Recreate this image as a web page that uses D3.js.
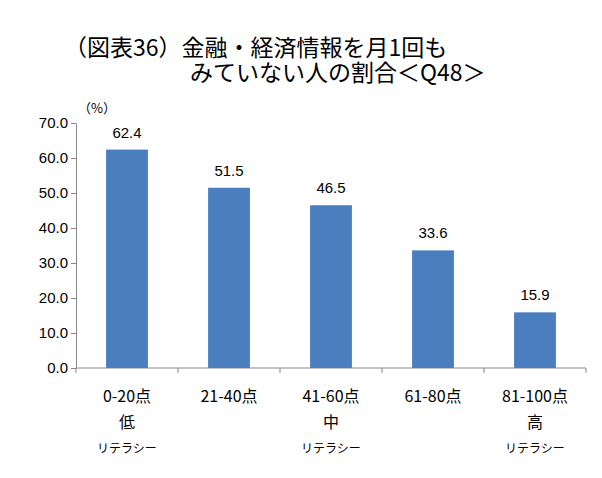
<!DOCTYPE html>
<html><head><meta charset="utf-8">
<script src="https://cdn.jsdelivr.net/npm/d3@7"></script>
<style>body{margin:0;background:#fff;font-family:"Noto Sans CJK JP","Noto Sans",sans-serif;}</style>
</head><body><svg id="chart" width="602" height="478"></svg>
<script>
var categories = ["0-20点", "21-40点", "41-60点", "61-80点", "81-100点"],
	sublabels = ["低", "", "中", "", "高"],
	values = [62.4, 51.5, 46.5, 33.6, 15.9],
	yTicks = [0, 10, 20, 30, 40, 50, 60, 70];

var svg = d3.select("#chart"),
	plotLeft = 76, plotRight = 586, plotTop = 123, plotBottom = 368;

var x = d3.scaleBand().domain(categories).range([plotLeft, plotRight]).paddingInner(0.59).paddingOuter(0.295);
var y = d3.scaleLinear().domain([0, 70]).range([plotBottom, plotTop]);

// title
svg.append("text").attr("x", 64).attr("y", 56).attr("font-size", 23).text("（図表36）金融・経済情報を月1回も");
svg.append("text").attr("x", 190).attr("y", 81).attr("font-size", 23).text("みていない人の割合＜Q48＞");

// y axis
var yAxis = svg.append("g").attr("transform", "translate(" + plotLeft + ",0)")
	.call(d3.axisLeft(y).tickValues(yTicks).tickFormat(d3.format(".1f")).tickSize(5).tickSizeOuter(0));
yAxis.selectAll("text").attr("font-size", 15).attr("font-family", "Liberation Sans, Arial").attr("fill", "#000");
yAxis.selectAll("line, path").attr("stroke", "#888");

svg.append("text").attr("x", 78).attr("y", 113).attr("font-size", 13).text("（%）");

// x axis line + boundary ticks
svg.append("line").attr("x1", plotLeft).attr("x2", plotRight).attr("y1", plotBottom).attr("y2", plotBottom).attr("stroke", "#888");
d3.range(categories.length + 1).forEach(function(i){
	var xx = plotLeft + i * (plotRight - plotLeft) / categories.length;
	svg.append("line").attr("x1", xx).attr("x2", xx).attr("y1", plotBottom).attr("y2", plotBottom + 5).attr("stroke", "#888");
});

// bars
svg.selectAll(".bar").data(values).enter().append("rect")
	.attr("x", function(d, i){ return x(categories[i]); })
	.attr("y", function(d){ return y(d); })
	.attr("width", x.bandwidth())
	.attr("height", function(d){ return plotBottom - y(d); })
	.attr("fill", "#4a7ebf");

svg.selectAll(".val").data(values).enter().append("text")
	.attr("x", function(d, i){ return x(categories[i]) + x.bandwidth() / 2; })
	.attr("y", function(d){ return y(d) - 12; })
	.attr("text-anchor", "middle").attr("font-size", 15)
	.attr("font-family", "Liberation Sans, Arial")
	.text(function(d){ return d.toFixed(1); });

// category labels
categories.forEach(function(c, i){
	var cx = x(c) + x.bandwidth() / 2;
	svg.append("text").attr("x", cx).attr("y", 402).attr("text-anchor", "middle").attr("font-size", 16).text(c);
	if (sublabels[i]) {
		svg.append("text").attr("x", cx).attr("y", 428).attr("text-anchor", "middle").attr("font-size", 16).text(sublabels[i]);
		svg.append("text").attr("x", cx).attr("y", 453).attr("text-anchor", "middle").attr("font-size", 12).text("リテラシー");
	}
});
</script></body></html>
